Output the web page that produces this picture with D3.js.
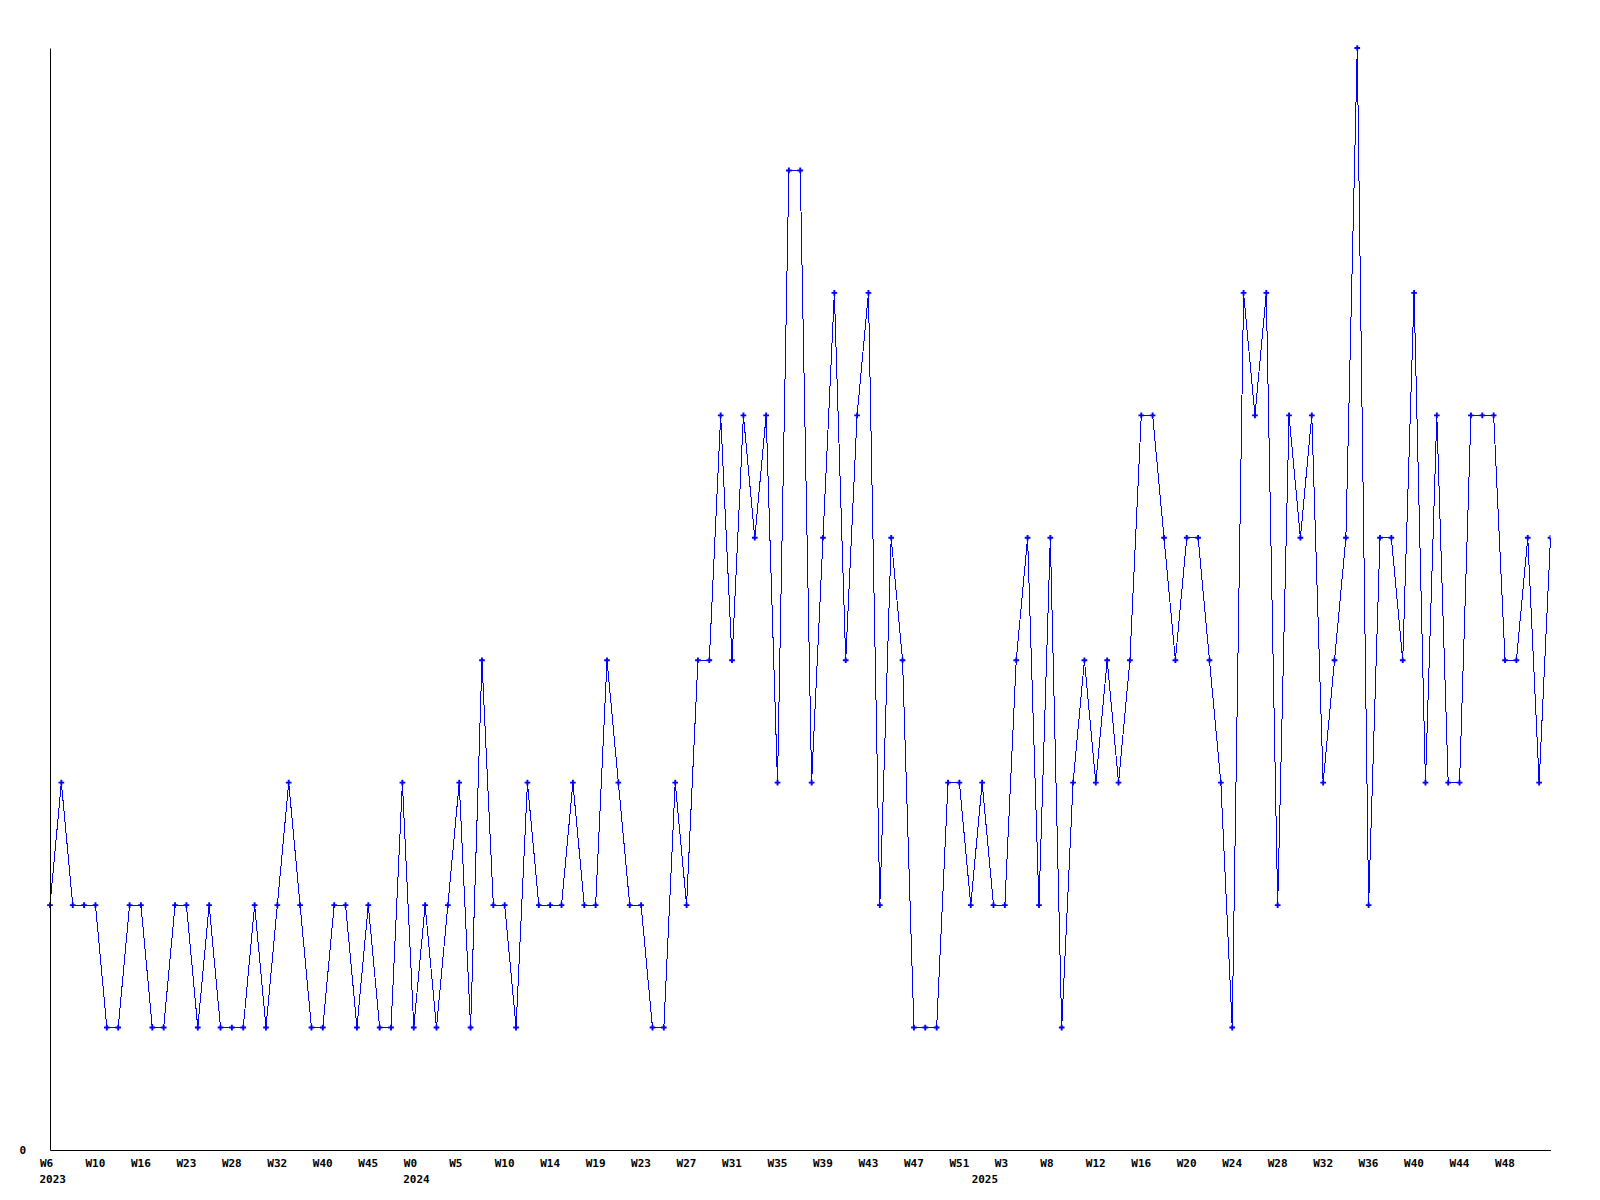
<!DOCTYPE html>
<html>
<head>
<meta charset="utf-8">
<script src="https://cdn.jsdelivr.net/npm/d3@7"></script>
<style>
  html, body { margin: 0; padding: 0; background: #ffffff; }
  svg { display: block; }
</style>
</head>
<body>
<div id="chart"></div>
<script>
// ---- data ----
const weeks2023 = [6,7,8,9,10,11,13,14,16,18,19,21,23,24,25,27,28,29,30,31,32,34,36,38,40,41,42,44,45,47,49,51];
const weeks2024 = [0,1,3,4,5,6,7,9,10,11,12,13,14,15,16,17,19,20,21,22,23,24,25,26,27,28,29,30,31,32,33,34,35,36,37,38,39,40,41,42,43,44,45,46,47,48,49,50,51,52];
const weeks2025 = [1,2,3,4,5,7,8,9,10,11,12,13,14,15,16,17,18,19,20,21,22,23,24,25,26,27,28,29,30,31,32,33,34,35,36,37,38,39,40,41,42,43,44,45,46,47,48,49,50,51,52];

const values = [
  2,3,2,2,2,1,1,2,2,1,1,2,2,1,2,1,1,1,2,1,2,3,2,1,1,2,2,1,2,1,1,3,
  1,2,1,2,3,1,4,2,2,1,3,2,2,2,3,2,2,4,3,2,2,1,1,3,2,4,4,6,4,6,5,6,3,8,8,3,5,7,4,6,7,2,5,4,1,1,1,3,3,2,
  3,2,2,4,5,2,5,1,3,4,3,4,3,4,6,6,5,4,5,5,4,3,1,7,6,7,2,6,5,6,3,4,5,9,2,5,5,4,7,3,6,3,3,6,6,6,4,4,5,3,5
];

const tickWeeks = ["2023-W06","2023-W10","2023-W16","2023-W23","2023-W28","2023-W32","2023-W40","2023-W45",
  "2024-W00","2024-W05","2024-W10","2024-W14","2024-W19","2024-W23","2024-W27","2024-W31","2024-W35",
  "2024-W39","2024-W43","2024-W47","2024-W51","2025-W03","2025-W08","2025-W12","2025-W16","2025-W20",
  "2025-W24","2025-W28","2025-W32","2025-W36","2025-W40","2025-W44","2025-W48"];

const yTickValues = [0];
const yMax = 9;

// ---- build ----
const pad = n => (n < 10 ? "0" + n : "" + n);
const categories = []
  .concat(weeks2023.map(w => "2023-W" + pad(w)))
  .concat(weeks2024.map(w => "2024-W" + pad(w)))
  .concat(weeks2025.map(w => "2025-W" + pad(w)));
const data = categories.map((c, i) => ({ week: c, value: values[i] }));

const W = 1600, H = 1200;
const mLeft = 50, mRight = 1550.5, mTop = 48, mBottom = 1150;
const font = "'DejaVu Sans Mono', monospace";

const svg = d3.select("#chart").append("svg")
  .attr("width", W).attr("height", H)
  .style("background", "#ffffff");

const x = d3.scalePoint().domain(categories).range([mLeft, mRight]).padding(0);
const y = d3.scaleLinear().domain([0, yMax]).range([mBottom, mTop]);

svg.append("defs").append("clipPath").attr("id", "plotclip")
  .append("rect").attr("x", mLeft - 4).attr("y", 0).attr("width", mRight - mLeft + 4).attr("height", mBottom + 4);

// line
const line = d3.line().x(d => x(d.week)).y(d => y(d.value));
svg.append("path")
  .datum(data)
  .attr("d", line)
  .attr("fill", "none")
  .attr("stroke", "#0000ff")
  .attr("stroke-width", 1)
  .attr("shape-rendering", "crispEdges");

// markers
const sym = d3.symbol().type(d3.symbolCross).size(18);
svg.append("g").attr("clip-path", "url(#plotclip)")
  .selectAll("path")
  .data(data)
  .join("path")
  .attr("d", sym)
  .attr("transform", d => `translate(${x(d.week)},${y(d.value)})`)
  .attr("fill", "#0000ff");

// y axis
const yAxis = svg.append("g")
  .attr("transform", `translate(${mLeft},0)`)
  .call(d3.axisLeft(y).tickValues(yTickValues).tickSize(0).tickSizeOuter(0).tickPadding(24).tickFormat(d3.format("d")));
yAxis.select(".domain").attr("stroke", "#000").attr("stroke-width", 1);
yAxis.selectAll("text")
  .attr("font-family", font).attr("font-size", 11).attr("font-weight", "bold").attr("fill", "#000");

// x axis
const xAxis = svg.append("g")
  .attr("transform", `translate(0,${mBottom})`)
  .call(d3.axisBottom(x).tickValues(tickWeeks).tickSize(0).tickSizeOuter(0)
    .tickFormat(d => "W" + (+d.split("-W")[1])));
xAxis.select(".domain").attr("stroke", "#000").attr("stroke-width", 1);
xAxis.selectAll(".tick text")
  .attr("font-family", font).attr("font-size", 11).attr("font-weight", "bold").attr("fill", "#000")
  .attr("text-anchor", "start").attr("x", -10.5).attr("y", 17).attr("dy", null);

// year labels under the first week of each year
let prevYear = null;
const yearStarts = [];
categories.forEach(c => {
  const yr = c.split("-W")[0];
  if (yr !== prevYear) { yearStarts.push(c); prevYear = yr; }
});
xAxis.selectAll(".year")
  .data(yearStarts)
  .join("text")
  .attr("class", "year")
  .attr("x", d => x(d) - 10.5)
  .attr("y", 33)
  .attr("font-family", font).attr("font-size", 11).attr("font-weight", "bold").attr("fill", "#000")
  .attr("text-anchor", "start")
  .text(d => d.split("-W")[0]);
</script>
</body>
</html>
